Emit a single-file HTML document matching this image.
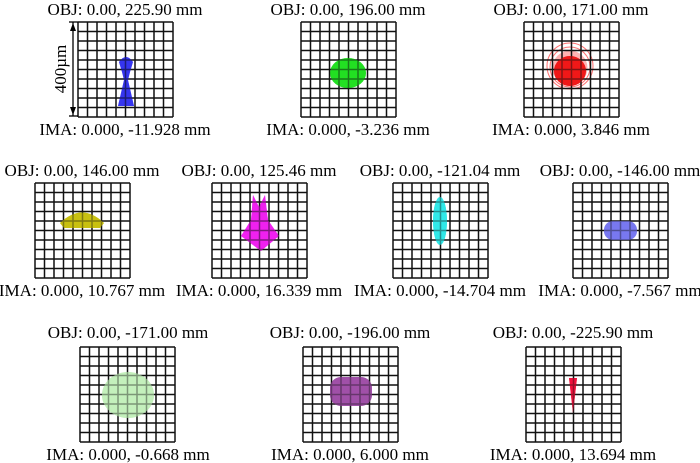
<!DOCTYPE html>
<html><head><meta charset="utf-8"><style>
html,body{margin:0;padding:0;background:#fff;}
svg{display:block;}
text{font-family:"Liberation Serif",serif;font-size:17px;fill:#000;}
</style></head><body>
<svg width="700" height="463" viewBox="0 0 700 463" xmlns="http://www.w3.org/2000/svg">
<defs>
<g id="grid"><path d="M0 0V95M9.5 0V95M19 0V95M28.5 0V95M38 0V95M47.5 0V95M57 0V95M66.5 0V95M76 0V95M85.5 0V95M95 0V95M0 0H95M0 9.5H95M0 19H95M0 28.5H95M0 38H95M0 47.5H95M0 57H95M0 66.5H95M0 76H95M0 85.5H95M0 95H95" stroke="#111" stroke-width="1.5" fill="none"/></g>
</defs>

<!-- Row 1 -->
<text x="125" y="15" text-anchor="middle">OBJ: 0.00, 225.90 mm</text>
<text x="348" y="15" text-anchor="middle">OBJ: 0.00, 196.00 mm</text>
<text x="571" y="15" text-anchor="middle">OBJ: 0.00, 171.00 mm</text>
<path d="M119 62 Q126 52 133 62 L130 72 L128 80 L134 106 L118 106 L124 80 L122 72 Z" fill="#2a2af0" opacity="0.9"/>
<ellipse cx="348" cy="73" rx="18" ry="15" fill="#22e022"/>
<circle cx="570" cy="66" r="23" fill="none" stroke="#f33" stroke-width="1" opacity="0.7"/>
<circle cx="570" cy="67" r="20" fill="none" stroke="#f33" stroke-width="1" opacity="0.7"/>
<circle cx="570" cy="68" r="17.5" fill="#f66" opacity="0.5"/>
<ellipse cx="570" cy="71" rx="16" ry="15" fill="#f01818"/>
<use href="#grid" x="78" y="22"/>
<use href="#grid" x="301" y="22"/>
<use href="#grid" x="524" y="22"/>
<path d="M119 62 Q126 52 133 62 L130 72 L128 80 L134 106 L118 106 L124 80 L122 72 Z" fill="#2a2af0" opacity="0.45"/>
<ellipse cx="348" cy="73" rx="18" ry="15" fill="#22e022" opacity="0.5"/>
<ellipse cx="570" cy="71" rx="16" ry="15" fill="#f01818" opacity="0.5"/>
<!-- scale bar -->
<line x1="73" y1="22" x2="73" y2="116" stroke="#000" stroke-width="1.3"/>
<line x1="69" y1="22" x2="78" y2="22" stroke="#000" stroke-width="1.3"/>
<line x1="69" y1="116" x2="78" y2="116" stroke="#000" stroke-width="1.3"/>
<path d="M73 23 L70 31 L76 31 Z M73 115 L70 107 L76 107 Z" fill="#000"/>
<text x="0" y="0" transform="translate(66,69) rotate(-90)" text-anchor="middle" font-size="18">400µm</text>
<text x="125" y="135" text-anchor="middle">IMA: 0.000, -11.928 mm</text>
<text x="348" y="135" text-anchor="middle">IMA: 0.000, -3.236 mm</text>
<text x="571" y="135" text-anchor="middle">IMA: 0.000, 3.846 mm</text>

<!-- Row 2 -->
<text x="82" y="176" text-anchor="middle">OBJ: 0.00, 146.00 mm</text>
<text x="259" y="176" text-anchor="middle">OBJ: 0.00, 125.46 mm</text>
<text x="440" y="176" text-anchor="middle">OBJ: 0.00, -121.04 mm</text>
<text x="620" y="176" text-anchor="middle">OBJ: 0.00, -146.00 mm</text>
<path d="M60 223 Q82 202 104 223 L100 228 L64 228 Z" fill="#c8c010"/>
<path d="M253 195 L259 207 L265 195 L268 220 L279 236 L261 251 L241 236 L251 220 Z" fill="#f020f0"/>
<ellipse cx="440" cy="221" rx="7" ry="24" fill="#30e8e8"/>
<rect x="604" y="221" width="33" height="19" rx="9" fill="#7878f0"/>
<use href="#grid" x="35" y="183"/>
<use href="#grid" x="212" y="183"/>
<use href="#grid" x="393" y="183"/>
<use href="#grid" x="573" y="183"/>
<path d="M60 223 Q82 202 104 223 L100 228 L64 228 Z" fill="#c8c010" opacity="0.6"/>
<path d="M253 195 L259 207 L265 195 L268 220 L279 236 L261 251 L241 236 L251 220 Z" fill="#f020f0" opacity="0.5"/>
<ellipse cx="440" cy="221" rx="7" ry="24" fill="#30e8e8" opacity="0.6"/>
<rect x="604" y="221" width="33" height="19" rx="9" fill="#7878f0" opacity="0.6"/>
<text x="82" y="296" text-anchor="middle">IMA: 0.000, 10.767 mm</text>
<text x="259" y="296" text-anchor="middle">IMA: 0.000, 16.339 mm</text>
<text x="440" y="296" text-anchor="middle">IMA: 0.000, -14.704 mm</text>
<text x="620" y="296" text-anchor="middle">IMA: 0.000, -7.567 mm</text>

<!-- Row 3 -->
<text x="128" y="338" text-anchor="middle">OBJ: 0.00, -171.00 mm</text>
<text x="350" y="338" text-anchor="middle">OBJ: 0.00, -196.00 mm</text>
<text x="573" y="338" text-anchor="middle">OBJ: 0.00, -225.90 mm</text>
<ellipse cx="128" cy="395" rx="26" ry="23" fill="#c4f0bc"/>
<rect x="330" y="377" width="42" height="29" rx="11" fill="#a050a8"/>
<path d="M569 378 L577 378 L573 413 Z" fill="#f0103c"/>
<use href="#grid" x="80" y="347"/>
<use href="#grid" x="303" y="347"/>
<use href="#grid" x="526" y="347"/>
<ellipse cx="128" cy="395" rx="26" ry="23" fill="#c4f0bc" opacity="0.6"/>
<rect x="330" y="377" width="42" height="29" rx="11" fill="#a050a8" opacity="0.6"/>
<path d="M569 378 L577 378 L573 413 Z" fill="#f0103c" opacity="0.6"/>
<text x="128" y="460" text-anchor="middle">IMA: 0.000, -0.668 mm</text>
<text x="350" y="460" text-anchor="middle">IMA: 0.000, 6.000 mm</text>
<text x="573" y="460" text-anchor="middle">IMA: 0.000, 13.694 mm</text>
</svg>
</body></html>
